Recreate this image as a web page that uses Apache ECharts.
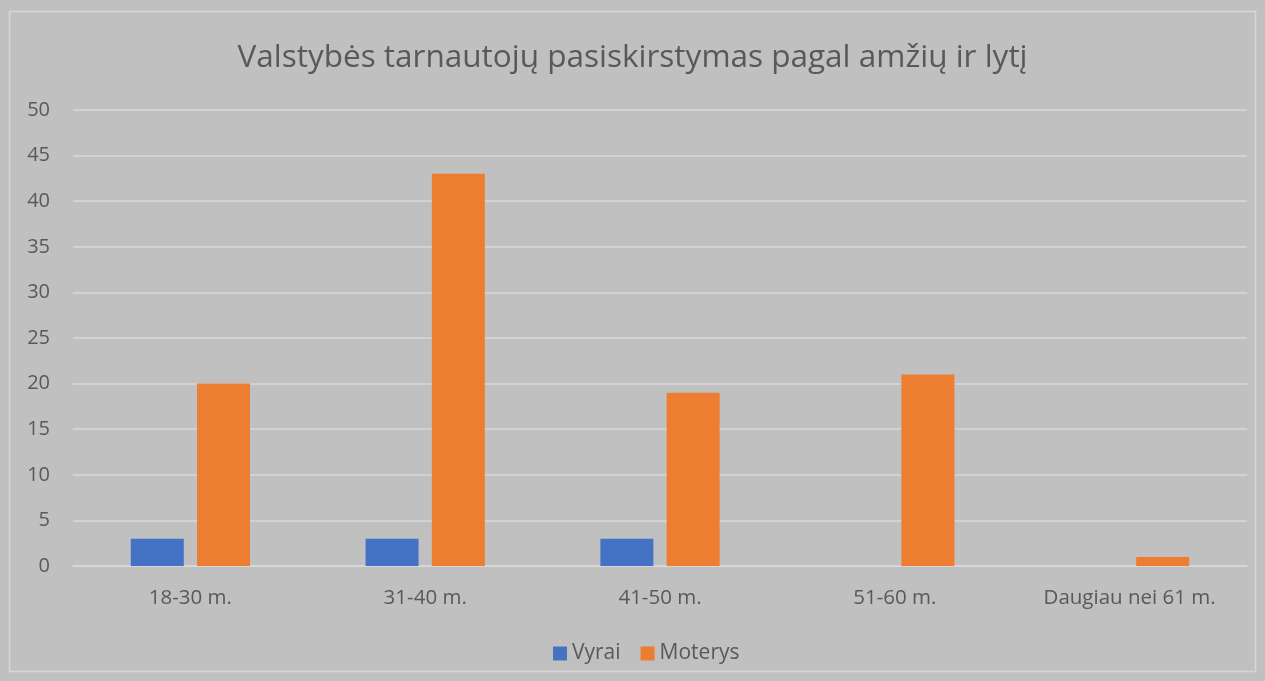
<!DOCTYPE html>
<html>
<head>
<meta charset="utf-8">
<script src="https://cdn.jsdelivr.net/npm/echarts@6/dist/echarts.min.js"></script>
<style>
  html, body { margin: 0; padding: 0; background: #c0c0c0; }
  #chart { width: 1265px; height: 681px; }
</style>
</head>
<body>
<div id="chart"></div>
<script>
  // amžiaus grupės
  const categories = ['18-30 m.', '31-40 m.', '41-50 m.', '51-60 m.', 'Daugiau nei 61 m.'];
  const vyrai = [3, 3, 3, 0, 0];
  const moterys = [20, 43, 19, 21, 1];

  const font = 'Open Sans, Noto Sans, sans-serif';
  const chart = echarts.init(document.getElementById('chart'));
  chart.setOption({
    backgroundColor: '#c0c0c0',
    animation: false,
    graphic: [{
      type: 'rect',
      shape: { x: 9.5, y: 11.5, width: 1246, height: 660 },
      style: { fill: 'none', stroke: '#d6d6d6', lineWidth: 1.5 },
      silent: true
    }],
    title: {
      text: 'Valstybės tarnautojų pasiskirstymas pagal amžių ir lytį',
      left: 'center',
      top: 37,
      textStyle: { fontFamily: font, fontSize: 31.5, fontWeight: 'normal', color: '#595959' }
    },
    legend: {
      data: ['Vyrai', 'Moterys'],
      bottom: 17,
      left: 553,
      icon: 'rect',
      itemWidth: 14,
      itemHeight: 14,
      itemGap: 20,
      padding: 0,
      textStyle: { fontFamily: font, fontSize: 21, color: '#595959' }
    },
    grid: { left: 73, right: 18, top: 110, bottom: 115, containLabel: false },
    xAxis: {
      type: 'category',
      data: categories,
      axisLine: { show: true, lineStyle: { color: '#d9d9d9', width: 1.5 } },
      axisTick: { show: false },
      axisLabel: { fontFamily: font, fontSize: 20.5, color: '#595959', margin: 22 }
    },
    yAxis: {
      type: 'value',
      min: 0,
      max: 50,
      interval: 5,
      axisLine: { show: false },
      axisTick: { show: false },
      splitLine: { lineStyle: { color: '#d9d9d9', width: 1.5 } },
      axisLabel: { fontFamily: font, fontSize: 20, color: '#595959', margin: 23 }
    },
    series: [{
      name: 'Vyrai',
      type: 'bar',
      data: vyrai,
      barWidth: 53,
      barGap: '25%',
      itemStyle: { color: '#4472c4' }
    }, {
      name: 'Moterys',
      type: 'bar',
      data: moterys,
      barWidth: 53,
      itemStyle: { color: '#ed7d31' }
    }]
  });
</script>
</body>
</html>
